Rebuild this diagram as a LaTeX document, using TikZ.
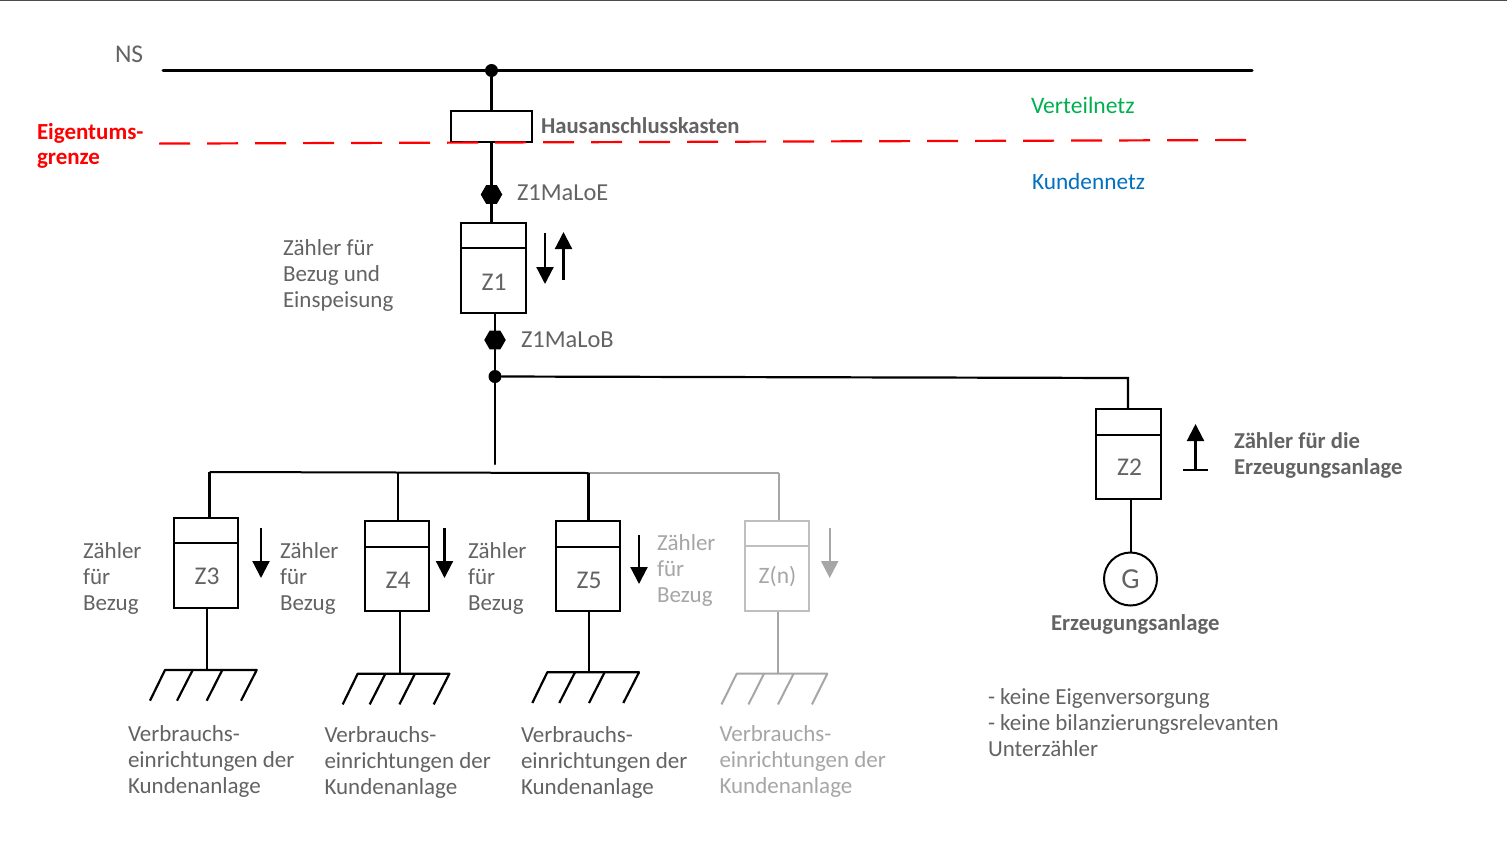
\documentclass[tikz,border=0pt]{standalone}
\usepackage{fontspec}
\setmainfont{Carlito}
\usetikzlibrary{shapes.geometric,arrows.meta}
\definecolor{txt}{HTML}{636363}
\definecolor{faint}{HTML}{A6A6A6}
\definecolor{faintbox}{HTML}{BFBFBF}
\definecolor{netgreen}{HTML}{00B050}
\definecolor{netblue}{HTML}{0070C0}
\tikzset{
  lbl/.style={inner sep=0pt,outer sep=0pt,anchor=west,align=left,text=txt,font=\fontsize{23}{26}\selectfont},
  lblb/.style={lbl,font=\fontsize{22.7}{26}\selectfont\bfseries},
  wire/.style={line width=2.2pt,draw=black,line cap=round},
  meterbox/.style={rectangle,draw=black,line width=2pt,fill=white,inner sep=0pt,minimum width=64.5pt,minimum height=90pt},
  flow/.style={line width=2.2pt,-{Triangle[width=17pt,length=17pt]}},
  hex/.style={regular polygon,regular polygon sides=6,fill=black,draw=none,inner sep=0pt,minimum size=21.5pt},
  jdot/.style={circle,fill=black,draw=none,inner sep=0pt,minimum size=13pt},
  meterlbl/.style={inner sep=0pt,text=txt,font=\fontsize{25.5}{28}\selectfont},
}
\begin{document}
\begin{tikzpicture}[x=1pt,y=-1pt]
\useasboundingbox (0,0) rectangle (1507,865);
\fill[white] (0,0) rectangle (1507,865);
\coordinate (tl) at (0,0.6);
\coordinate (tr) at (1507,0.6);
\draw[line width=1.5pt,draw=black!70] (tl) -- (tr);

% bus
\coordinate (nsL) at (163,70.5);
\coordinate (nsR) at (1252,70.5);
\draw[line width=3pt,line cap=round] (nsL) -- (nsR);
\node[jdot] (j1) at (491.5,70.5) {};
\node[rectangle,draw=black,line width=2pt,fill=white,minimum width=81pt,minimum height=31pt,inner sep=0pt] (hak) at (491.5,126.5) {};
\draw[wire] (j1) -- (hak.north);

% property boundary
\coordinate (egL) at (159,143.6);
\coordinate (egR) at (1248,140);
\draw[red,line width=2.2pt,dash pattern=on 31pt off 17pt] (egL) -- (egR);

% Z1
\node[meterbox] (z1) at (493.5,268) {};
\coordinate (z1a) at (491.5,223);
\coordinate (z1b) at (495,313);
\node[hex] (hexE) at (491.5,194.5) {};
\node[hex] (hexB) at (495,340) {};
\node[jdot] (j2) at (495,376.5) {};
\coordinate (trunk) at (495,464);
\draw[wire] (hak.south) -- (hexE);
\draw[wire] (hexE) -- (z1a);
\draw[wire] (z1b) -- (hexB);
\draw[wire] (hexB) -- (j2);
\draw[wire,line width=2.6pt] (j2) -- (trunk);
\draw[line width=2pt] (z1.west |- 0,248) -- (z1.east |- 0,248);
\node[meterlbl] (z1l) at (494,282) {Z1};
\coordinate (a1s) at (545,233); \coordinate (a1e) at (545,284);
\coordinate (a2s) at (563.5,280); \coordinate (a2e) at (563.5,232);
\draw[flow] (a1s) -- (a1e);
\draw[flow] (a2s) -- (a2e);

% Z2 branch
\node[meterbox] (z2) at (1128.5,453.5) {};
\coordinate (z2a) at (1128,409);
\coordinate (z2c) at (1128,378);
\draw[wire,line join=miter] (j2) -- (z2c) -- (z2a);
\draw[line width=2pt] (z2.west |- 0,435) -- (z2.east |- 0,435);
\node[meterlbl] (z2l) at (1129.5,467) {Z2};
\node[circle,draw=black,line width=2pt,fill=white,minimum size=53pt,inner sep=0pt,text=txt,font=\fontsize{29}{32}\selectfont] (gen) at (1130.5,579) {G};
\coordinate (z2b) at (1131,498);
\draw[wire,line width=2.5pt,line cap=butt] (z2b) -- (gen.north -| z2b);
\coordinate (a3s) at (1195.5,470); \coordinate (a3e) at (1195.5,424);
\coordinate (a3l) at (1183,470); \coordinate (a3r) at (1208,470);
\draw[flow] (a3s) -- (a3e);
\draw[line width=2pt] (a3l) -- (a3r);

% distribution bar
\coordinate (bL) at (209.5,472);
\coordinate (b4) at (398,472.5);
\coordinate (b5) at (588.5,473);
\coordinate (bn) at (779,473);
\draw[line width=2pt,faint] (b5) -- (bn);
\draw[line width=2pt] (bL) -- (b5);

% Z3
\node[meterbox] (z3) at (206.2,562.5) {};
\draw[wire,line cap=butt] (bL) -- (z3.north -| bL);
\draw[line width=2pt] (z3.west |- 0,543) -- (z3.east |- 0,543);
\node[meterlbl] (z3l) at (207,576) {Z3};
\coordinate (g3) at (207.3,670);
\draw[wire,line cap=butt] (z3.south -| g3) -- (g3);
\coordinate (g3a) at (165,670); \coordinate (g3b) at (192.7,670); \coordinate (g3c) at (222.3,670); \coordinate (g3d) at (256.7,670);
\coordinate (g3e) at (150,700.7); \coordinate (g3f) at (177,700.7); \coordinate (g3g) at (206.7,700.7); \coordinate (g3h) at (241,700.7);
\draw[wire,line cap=butt,line join=round] (g3e) -- (g3a) -- (g3d) -- (g3h);
\draw[wire,line cap=butt] (g3b) -- (g3f);
\draw[wire,line cap=butt] (g3c) -- (g3g);
\coordinate (a4s) at (261,528); \coordinate (a4e) at (261,578);
\draw[flow] (a4s) -- (a4e);

% Z4
\node[meterbox] (z4) at (397,566) {};
\draw[wire,line cap=butt] (b4) -- (z4.north -| b4);
\draw[line width=2pt] (z4.west |- 0,547) -- (z4.east |- 0,547);
\node[meterlbl] (z4l) at (398,580) {Z4};
\coordinate (g4) at (400,673.7);
\draw[wire,line cap=butt] (z4.south -| g4) -- (g4);
\coordinate (g4a) at (357.7,673.7); \coordinate (g4b) at (385.4,673.7); \coordinate (g4c) at (415,673.7); \coordinate (g4d) at (449.4,673.7);
\coordinate (g4e) at (342.7,704.4); \coordinate (g4f) at (369.7,704.4); \coordinate (g4g) at (399.4,704.4); \coordinate (g4h) at (433.7,704.4);
\draw[wire,line cap=butt,line join=round] (g4e) -- (g4a) -- (g4d) -- (g4h);
\draw[wire,line cap=butt] (g4b) -- (g4f);
\draw[wire,line cap=butt] (g4c) -- (g4g);
\coordinate (a5s) at (444.5,528); \coordinate (a5e) at (444.5,578);
\draw[flow] (a5s) -- (a5e);

% Z5
\node[meterbox] (z5) at (587.8,566) {};
\draw[wire,line cap=butt] (b5) -- (z5.north -| b5);
\draw[line width=2pt] (z5.west |- 0,547) -- (z5.east |- 0,547);
\node[meterlbl] (z5l) at (589,580) {Z5};
\coordinate (g5) at (589.3,672.3);
\draw[wire,line cap=butt] (z5.south -| g5) -- (g5);
\coordinate (g5a) at (547.3,672.3); \coordinate (g5b) at (575,672.3); \coordinate (g5c) at (604.6,672.3); \coordinate (g5d) at (639,672.3);
\coordinate (g5e) at (532.3,703); \coordinate (g5f) at (559.3,703); \coordinate (g5g) at (589,703); \coordinate (g5h) at (623.3,703);
\draw[wire,line cap=butt,line join=round] (g5e) -- (g5a) -- (g5d) -- (g5h);
\draw[wire,line cap=butt] (g5b) -- (g5f);
\draw[wire,line cap=butt] (g5c) -- (g5g);
\coordinate (a6s) at (639,535); \coordinate (a6e) at (639,584);
\draw[flow] (a6s) -- (a6e);

% Z(n)
\node[meterbox,draw=faintbox] (zn) at (777.2,566) {};
\draw[line width=2pt,faint,line cap=butt] (bn) -- (zn.north -| bn);
\draw[line width=2pt,faintbox] (zn.west |- 0,546) -- (zn.east |- 0,546);
\node[meterlbl,text=faint,font=\fontsize{23.5}{26}\selectfont] (znl) at (777.5,577) {Z(n)};
\coordinate (gn) at (778.3,673.7);
\draw[line width=2pt,faint,line cap=butt] (zn.south -| gn) -- (gn);
\coordinate (gna) at (736.7,673.7); \coordinate (gnb) at (764,673.7); \coordinate (gnc) at (793.6,673.7); \coordinate (gnd) at (827.3,673.7);
\coordinate (gne) at (721.5,704.4); \coordinate (gnf) at (748.5,704.4); \coordinate (gng) at (778,704.4); \coordinate (gnh) at (812,704.4);
\draw[line width=2pt,faint,line cap=butt,line join=round] (gne) -- (gna) -- (gnd) -- (gnh);
\draw[line width=2pt,faint,line cap=butt] (gnb) -- (gnf);
\draw[line width=2pt,faint,line cap=butt] (gnc) -- (gng);
\coordinate (a7s) at (829.7,528); \coordinate (a7e) at (829.7,578);
\draw[flow,faint] (a7s) -- (a7e);

% labels
\node[lbl,font=\fontsize{25.5}{28}\selectfont] (tNS) at (115,54.5) {NS};
\node[lblb,text=red,font=\fontsize{23}{25}\selectfont\bfseries] (tEG) at (37,146) {Eigentums-\\grenze};
\node[lblb,font=\fontsize{22.7}{26}\selectfont\bfseries] (tHAK) at (541,126) {Hausanschlusskasten};
\node[lbl,text=netgreen,font=\fontsize{23.6}{26}\selectfont] (tVN) at (1031,105) {Verteilnetz};
\node[lbl,text=netblue,font=\fontsize{23.3}{26}\selectfont] (tKN) at (1032,181) {Kundennetz};
\node[lbl,font=\fontsize{24.4}{26}\selectfont] (tE) at (517,193) {Z1MaLoE};
\node[lbl,font=\fontsize{24.4}{26}\selectfont] (tB) at (521,340) {Z1MaLoB};
\node[lbl] (t1) at (283,275) {Zähler für\\Bezug und\\Einspeisung};
\node[lbl] (t3) at (83,578.5) {Zähler\\für\\Bezug};
\node[lbl] (t4) at (280,578.5) {Zähler\\für\\Bezug};
\node[lbl] (t5) at (468,578.5) {Zähler\\für\\Bezug};
\node[lbl,text=faint] (t6) at (657,570.5) {Zähler\\für\\Bezug};
\node[lbl] (v3) at (128,761.5) {Verbrauchs-\\einrichtungen der\\Kundenanlage};
\node[lbl] (v4) at (324.5,762) {Verbrauchs-\\einrichtungen der\\Kundenanlage};
\node[lbl] (v5) at (521,762) {Verbrauchs-\\einrichtungen der\\Kundenanlage};
\node[lbl,text=faint] (vn) at (719.5,761.5) {Verbrauchs-\\einrichtungen der\\Kundenanlage};
\node[lblb] (tZ2) at (1234,455) {Zähler für die\\Erzeugungsanlage};
\node[lblb] (tEA) at (1051,624) {Erzeugungsanlage};
\node[lbl] (tnote) at (988,723) {- keine Eigenversorgung\\- keine bilanzierungsrelevanten\\Unterzähler};
\end{tikzpicture}
\end{document}
